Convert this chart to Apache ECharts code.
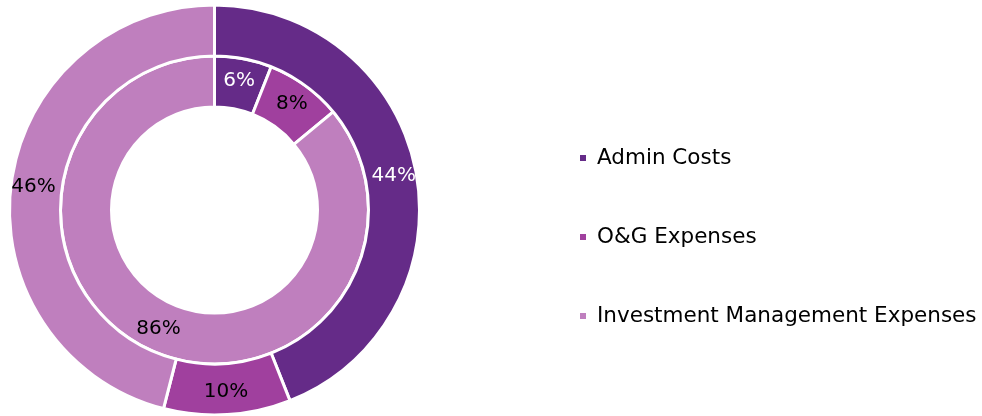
<!DOCTYPE html>
<html>
<head>
<meta charset="utf-8">
<script src="https://cdn.jsdelivr.net/npm/echarts@6/dist/echarts.min.js"></script>
<style>
  html, body { margin: 0; padding: 0; background: #ffffff; }
  #chart { width: 982px; height: 416px; }
</style>
</head>
<body>
<div id="chart"></div>
<script>
var categories = ['Admin Costs', 'O&G Expenses', 'Investment Management Expenses'];
var colors = ['#652b88', '#a0409e', '#bf7fbe'];
var innerValues = [6, 8, 86];
var outerValues = [44, 10, 46];
// label colour per slice (dark slices get white text)
var innerLabelColors = ['#ffffff', '#000000', '#000000'];
var outerLabelColors = ['#ffffff', '#000000', '#000000'];

function buildData(values, labelColors) {
    return categories.map(function (name, i) {
        return {
            name: name,
            value: values[i],
            itemStyle: { color: colors[i] },
            label: { color: labelColors[i] }
        };
    });
}

var myChart = echarts.init(document.getElementById('chart'));
var ringStyle = {
    type: 'pie',
    center: [214.5, 210],
    startAngle: 90,
    clockwise: true,
    avoidLabelOverlap: false,
    itemStyle: { borderColor: '#ffffff', borderWidth: 3 },
    label: {
        show: true,
        position: 'inside',
        formatter: '{c}%',
        fontFamily: 'DejaVu Sans',
        fontSize: 20
    },
    labelLine: { show: false },
    emphasis: { disabled: true }
};

var option = {
    animation: false,
    color: colors,
    legend: {
        orient: 'vertical',
        left: 578,
        top: 147,
        padding: 0,
        itemWidth: 8,
        itemHeight: 8,
        itemGap: 57,
        icon: 'rect',
        data: categories,
        textStyle: {
            fontFamily: 'DejaVu Sans',
            fontSize: 21.5,
            color: '#000000',
            lineHeight: 22,
            padding: [0, 0, 0, 5]
        }
    },
    series: [
        Object.assign({}, ringStyle, {
            name: 'inner',
            radius: [103, 154],
            data: buildData(innerValues, innerLabelColors)
        }),
        Object.assign({}, ringStyle, {
            name: 'outer',
            radius: [154, 205],
            data: buildData(outerValues, outerLabelColors)
        })
    ]
};
myChart.setOption(option);
</script>
</body>
</html>
